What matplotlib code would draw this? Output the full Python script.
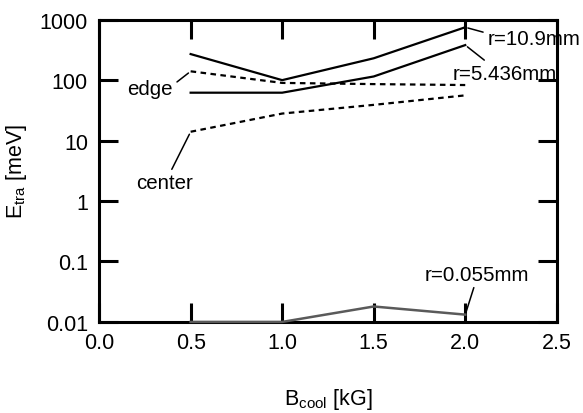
import matplotlib
matplotlib.use('agg')
import matplotlib.pyplot as plt
from matplotlib.ticker import FixedLocator, FixedFormatter

plt.rcParams['font.family'] = ['Liberation Sans', 'DejaVu Sans']

# datos
b_cool = [0.5, 1.0, 1.5, 2.0]
e_r109 = [270, 100, 230, 750]
e_r5436 = [62, 62, 115, 380]
e_edge = [140, 90, 86, 83]
e_center = [14, 28, 39, 56]
e_r0055 = [0.01, 0.01, 0.018, 0.0132]

yticks = [0.01, 0.1, 1, 10, 100, 1000]
ytick_labels = ['0.01', '0.1', '1', '10', '100', '1000']
xticks = [0.0, 0.5, 1.0, 1.5, 2.0, 2.5]

fs = 15.5
fs_ann = 14.8

fig = plt.figure(figsize=(5.83, 4.14), dpi=100)
ax = fig.add_axes([0.170, 0.220, 0.785, 0.730])

ax.plot(b_cool, e_r109, color='black', lw=1.6)
ax.plot(b_cool, e_r5436, color='black', lw=1.6)
ax.plot(b_cool, e_edge, color='black', lw=1.6, ls=(0, (2.5, 2)))
ax.plot(b_cool, e_center, color='black', lw=1.6, ls=(0, (2.5, 2)))
ax.plot(b_cool, e_r0055, color='#5a5a5a', lw=1.8, clip_on=False, zorder=3)

ax.set_yscale('log')
ax.set_xlim(0, 2.5)
ax.set_ylim(0.01, 1000)

ax.xaxis.set_major_locator(FixedLocator(xticks))
ax.set_xticklabels(['%.1f' % v for v in xticks])
ax.yaxis.set_major_locator(FixedLocator(yticks))
ax.yaxis.set_major_formatter(FixedFormatter(ytick_labels))
ax.yaxis.set_minor_locator(FixedLocator([]))

ax.tick_params(which='major', direction='in', length=14, width=2.2,
               top=True, right=True, labelsize=fs)
ax.tick_params(axis='x', pad=7)
ax.tick_params(axis='y', pad=8)
for sp in ax.spines.values():
    sp.set_linewidth(2.2)

ax.set_ylabel('E$_{\\mathregular{tra}}$ [meV]', fontsize=fs, labelpad=8)
ax.set_xlabel('B$_{\\mathregular{cool}}$ [kG]', fontsize=fs, labelpad=24)

lp = dict(arrowstyle='-', color='black', lw=1.1, shrinkA=1, shrinkB=2)
ax.annotate('r=10.9mm', xy=(2.0, e_r109[3]), xytext=(2.12, 480),
            ha='left', va='center', fontsize=fs_ann, annotation_clip=False,
            arrowprops=dict(lp, relpos=(0.0, 0.8)))
ax.annotate('r=5.436mm', xy=(2.0, e_r5436[3]), xytext=(1.93, 130),
            ha='left', va='center', fontsize=fs_ann, annotation_clip=False,
            arrowprops=dict(lp, relpos=(0.35, 1.0)))
ax.annotate('edge', xy=(0.5, e_edge[0]), xytext=(0.28, 72),
            ha='center', va='center', fontsize=fs_ann,
            arrowprops=dict(lp, relpos=(1.0, 0.7)))
ax.annotate('center', xy=(0.5, e_center[0]), xytext=(0.355, 2.0),
            ha='center', va='center', fontsize=fs_ann,
            arrowprops=dict(lp, relpos=(0.6, 1.0)))
ax.annotate('r=0.055mm', xy=(2.0, e_r0055[3]), xytext=(1.78, 0.062),
            ha='left', va='center', fontsize=fs_ann,
            arrowprops=dict(lp, relpos=(0.48, 0.0)))

plt.savefig('out.png', dpi=100)
